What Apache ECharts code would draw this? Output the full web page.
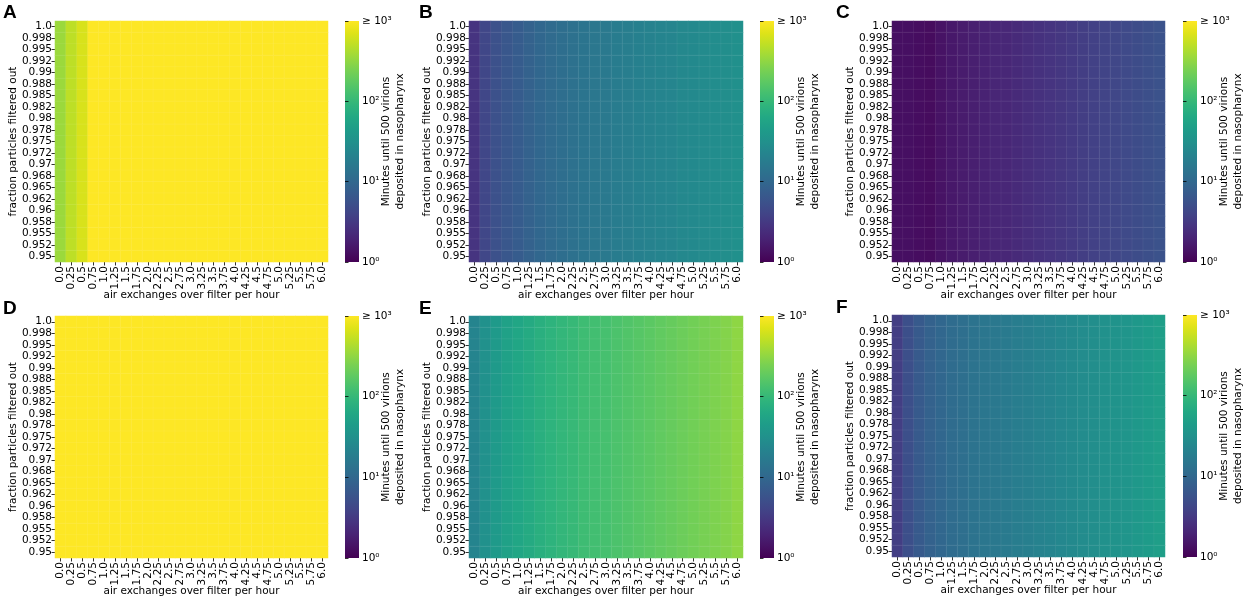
<!DOCTYPE html>
<html>
<head>
<meta charset="utf-8">
<script src="https://cdn.jsdelivr.net/npm/echarts@6/dist/echarts.min.js"></script>
<style>
html,body{margin:0;padding:0;background:#fff;}
#chart{width:1247px;height:602px;}
</style>
</head>
<body>
<div id="chart"></div>
<script>
// ---- data ----
const xLabels = ['0.0','0.25','0.5','0.75','1.0','1.25','1.5','1.75','2.0','2.25','2.5','2.75','3.0','3.25','3.5','3.75','4.0','4.25','4.5','4.75','5.0','5.25','5.5','5.75','6.0'];
const yLabels = ['1.0','0.998','0.995','0.992','0.99','0.988','0.985','0.982','0.98','0.978','0.975','0.972','0.97','0.968','0.965','0.962','0.96','0.958','0.955','0.952','0.95'];
// minutes until 500 virions deposited (per air-exchange column; >=1000 shown as 1000)
const panelA = [355,501,661,1000,1000,1000,1000,1000,1000,1000,1000,1000,1000,1000,1000,1000,1000,1000,1000,1000,1000,1000,1000,1000,1000];
const panelB = [2.82,4.27,5.43,6.46,7.41,8.51,9.77,10.8,12.0,12.9,14.3,15.3,16.4,17.6,18.8,20.2,20.9,22.4,23.2,24.8,25.7,27.2,28.5,29.5,31.0];
const panelC = [1.32,1.32,1.27,1.23,1.41,1.57,1.68,1.80,1.93,2.07,2.14,2.29,2.45,2.63,2.82,3.02,3.24,3.47,3.72,3.98,4.27,4.57,4.90,5.25,5.62];
const panelD = [1000,1000,1000,1000,1000,1000,1000,1000,1000,1000,1000,1000,1000,1000,1000,1000,1000,1000,1000,1000,1000,1000,1000,1000,1000];
const panelE = [22.4,31.6,41.7,51.3,58.9,67.6,77.6,86.1,95.5,102,114,122,130,140,150,160,172,184,197,211,226,243,260,279,309];
const panelF = [3.47,5.25,6.92,8.51,9.77,11.2,12.4,13.8,14.8,15.8,17.0,18.2,19.5,20.9,22.4,24.0,25.7,27.5,29.5,31.6,33.9,36.3,38.9,43.2,47.9];
const panelLetters = ['A','B','C','D','E','F'];
const cbarTicks = ['10\u2070','10\u00b9','10\u00b2','\u2265 10\u00b3'];

// ---- style ----
const viridis = ['#440154','#471365','#482475','#463480','#414487','#3b528b','#355f8d','#2f6c8e','#2a788e','#25848e','#21918c','#1e9c89','#22a884','#2fb47c','#44bf70','#5ec962','#7ad151','#9bd93c','#bddf26','#dfe318','#fde725'];
const FONT = 'DejaVu Sans';
const FS = 10.5;
const panels = [panelA, panelB, panelC, panelD, panelE, panelF];
const layout = [
  {hl:55,  ht:21,  hw:273, hh:241, cl:345,  letterX:3,   letterY:3},
  {hl:469, ht:21,  hw:274, hh:241, cl:760,  letterX:419, letterY:3},
  {hl:892, ht:21,  hw:273, hh:241, cl:1183, letterX:836, letterY:3},
  {hl:55,  ht:316, hw:273, hh:242, cl:345,  letterX:3,   letterY:299},
  {hl:469, ht:316, hw:274, hh:242, cl:760,  letterX:419, letterY:299},
  {hl:892, ht:315, hw:273, hh:242, cl:1183, letterX:836, letterY:298}
];

const grids = [], xAxes = [], yAxes = [], series = [], graphics = [];
const gradStops = viridis.map((c, i) => ({offset: i / (viridis.length - 1), color: c}));

panels.forEach((vals, i) => {
  const L = layout[i];
  grids.push({left: L.hl, top: L.ht, width: L.hw, height: L.hh, containLabel: false});
  xAxes.push({
    type: 'category', data: xLabels, gridIndex: i,
    axisLine: {show: false},
    axisTick: {show: true, alignWithLabel: true, length: 3.5, lineStyle: {color: '#000', width: 0.8}},
    axisLabel: {rotate: 90, interval: 0, fontFamily: FONT, fontSize: FS, color: '#000', margin: 4},
    splitLine: {show: false},
    name: 'air exchanges over filter per hour', nameLocation: 'middle', nameGap: 28, nameMoveOverlap: false,
    nameTextStyle: {fontFamily: FONT, fontSize: FS, color: '#000'}
  });
  yAxes.push({
    type: 'category', data: yLabels, gridIndex: i, inverse: true,
    axisLine: {show: false},
    axisTick: {show: true, alignWithLabel: true, length: 3.5, lineStyle: {color: '#000', width: 0.8}},
    axisLabel: {interval: 0, fontFamily: FONT, fontSize: FS, color: '#000', margin: 3},
    splitLine: {show: false},
    name: 'fraction particles filtered out', nameLocation: 'middle', nameGap: 36, nameRotate: 90, nameMoveOverlap: false,
    nameTextStyle: {fontFamily: FONT, fontSize: FS, color: '#000'}
  });
  const data = [];
  for (let yi = 0; yi < yLabels.length; yi++) {
    for (let xi = 0; xi < xLabels.length; xi++) {
      const v = Math.max(1, Math.min(1000, vals[xi]));
      data.push([xi, yi, Math.log10(v)]);
    }
  }
  series.push({
    type: 'heatmap', xAxisIndex: i, yAxisIndex: i, data: data,
    itemStyle: {borderColor: 'rgba(255,255,255,0.10)', borderWidth: 0.6},
    emphasis: {disabled: true}, silent: true, progressive: 0
  });
  graphics.push({
    type: 'text', left: L.letterX, top: L.letterY,
    style: {text: panelLetters[i], font: 'bold 19px "Liberation Sans", Arial, sans-serif', fill: '#000'}
  });
});

// colorbars
panels.forEach((vals, i) => {
  const L = layout[i];
  const gi = 6 + i;
  grids.push({
    left: L.cl, top: L.ht, width: 14, height: L.hh, show: true, borderWidth: 0,
    backgroundColor: new echarts.graphic.LinearGradient(0, 1, 0, 0, gradStops)
  });
  xAxes.push({type: 'value', gridIndex: gi, show: false, min: 0, max: 1});
  yAxes.push({
    type: 'value', gridIndex: gi, position: 'right', min: 0, max: 3, interval: 1,
    axisLine: {show: false},
    axisTick: {show: true, length: 3.5, lineStyle: {color: '#000', width: 0.8}},
    splitLine: {show: false},
    axisLabel: {fontFamily: FONT, fontSize: FS, color: '#000', margin: 3,
      formatter: v => cbarTicks[Math.round(v)]},
    name: 'Minutes until 500 virions\ndeposited in nasopharynx',
    nameLocation: 'middle', nameRotate: 90, nameGap: 20, nameMoveOverlap: false,
    nameTextStyle: {fontFamily: FONT, fontSize: FS, color: '#000', lineHeight: 14}
  });
});

const chart = echarts.init(document.getElementById('chart'), null, {renderer: 'canvas'});
chart.setOption({
  animation: false,
  backgroundColor: '#fff',
  grid: grids,
  xAxis: xAxes,
  yAxis: yAxes,
  visualMap: {
    type: 'continuous', show: false, min: 0, max: 3, dimension: 2,
    seriesIndex: [0,1,2,3,4,5], inRange: {color: viridis}
  },
  series: series,
  graphic: graphics
});
</script>
</body>
</html>
